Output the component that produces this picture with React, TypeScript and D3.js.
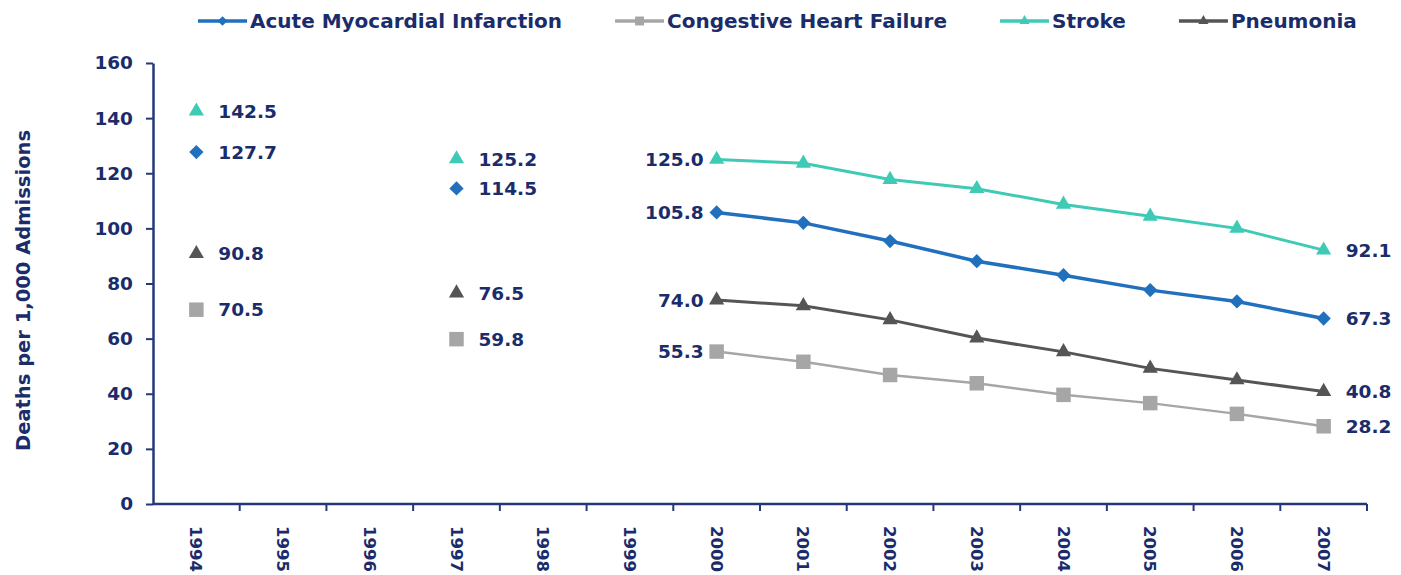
import { useRef, useEffect } from 'react';
import * as d3 from 'd3';

const years = ['1994', '1995', '1996', '1997', '1998', '1999', '2000', '2001', '2002', '2003', '2004', '2005', '2006', '2007'];

const amiValues = [127.7, null, null, 114.5, null, null, 105.8, 102.0, 95.4, 88.1, 83.0, 77.6, 73.5, 67.3];
const chfValues = [70.5, null, null, 59.8, null, null, 55.3, 51.6, 46.8, 43.8, 39.6, 36.6, 32.7, 28.2];
const strokeValues = [142.5, null, null, 125.2, null, null, 125.0, 123.6, 117.7, 114.4, 108.7, 104.4, 100.0, 92.1];
const pneumoniaValues = [90.8, null, null, 76.5, null, null, 74.0, 71.9, 66.8, 60.2, 55.2, 49.2, 45.0, 40.8];

const seriesNames = ['Acute Myocardial Infarction', 'Congestive Heart Failure', 'Stroke', 'Pneumonia'];
const yTicks = [0, 20, 40, 60, 80, 100, 120, 140, 160];
// which points carry a value label
const labelIndex = [0, 3, 6, 13];

const yTitle = 'Deaths per 1,000 Admissions';

const NAVY = '#1b2c6b';
const AXIS = '#23387a';
const FONT = '"DejaVu Sans", Verdana, sans-serif';

function App() {
  const svgRef = useRef<SVGSVGElement | null>(null);
  const width = 1401;
  const height = 575;

  useEffect(() => {
    const svg = d3.select(svgRef.current);
    svg.selectAll('*').remove();

    const series = [
      { name: seriesNames[0], values: amiValues, color: '#2070be', symbol: d3.symbolDiamond2, size: 130, legendSize: 60, lw: 3.5 },
      { name: seriesNames[1], values: chfValues, color: '#a6a6a6', symbol: d3.symbolSquare, size: 210, legendSize: 80, lw: 2.5 },
      { name: seriesNames[2], values: strokeValues, color: '#3fcab5', symbol: d3.symbolTriangle, size: 100, legendSize: 45, lw: 3 },
      { name: seriesNames[3], values: pneumoniaValues, color: '#555555', symbol: d3.symbolTriangle, size: 100, legendSize: 45, lw: 3 },
    ];

    const x = d3.scaleBand<string>().domain(years).range([153, 1367]).padding(0);
    const y = d3.scaleLinear().domain([0, 160]).range([504, 63]);
    const cx = (i: number) => (x(years[i]) as number) + x.bandwidth() / 2;

    // y axis
    const yAxis = svg
      .append('g')
      .attr('transform', `translate(${x.range()[0]},0)`)
      .call(d3.axisLeft(y).tickValues(yTicks).tickSize(7).tickPadding(13).tickSizeOuter(0));
    yAxis.select('.domain').attr('stroke', AXIS).attr('stroke-width', 2.5);
    yAxis.selectAll('.tick line').attr('stroke', AXIS).attr('stroke-width', 2);
    yAxis
      .selectAll('.tick text')
      .attr('fill', NAVY)
      .style('font-family', FONT)
      .style('font-weight', 'bold')
      .style('font-size', '18.5px');

    // x axis: line plus ticks at band edges
    const xAxis = svg.append('g');
    xAxis
      .append('line')
      .attr('x1', x.range()[0])
      .attr('x2', x.range()[1])
      .attr('y1', y(0))
      .attr('y2', y(0))
      .attr('stroke', AXIS)
      .attr('stroke-width', 2.5);
    const edges = years.map((d) => x(d) as number).concat([x.range()[1]]);
    xAxis
      .selectAll('line.tick')
      .data(edges.slice(1))
      .join('line')
      .attr('class', 'tick')
      .attr('x1', (d) => d)
      .attr('x2', (d) => d)
      .attr('y1', y(0))
      .attr('y2', y(0) + 7)
      .attr('stroke', AXIS)
      .attr('stroke-width', 2);
    xAxis
      .selectAll('text')
      .data(years)
      .join('text')
      .attr('transform', (d, i) => `translate(${cx(i)},${y(0) + 22}) rotate(90)`)
      .attr('dy', '0.36em')
      .attr('fill', NAVY)
      .style('font-family', FONT)
      .style('font-weight', 'bold')
      .style('font-size', '16.5px')
      .text((d) => d);

    // y axis title
    svg
      .append('text')
      .attr('transform', `translate(30,${(y(0) + y(160)) / 2 + 7}) rotate(-90)`)
      .attr('text-anchor', 'middle')
      .attr('fill', NAVY)
      .style('font-family', FONT)
      .style('font-weight', 'bold')
      .style('font-size', '19.5px')
      .text(yTitle);

    // lines
    const line = d3
      .line<number | null>()
      .defined((d) => d != null)
      .x((_, i) => cx(i))
      .y((d) => y(d as number));

    series.forEach((s) => {
      // only connect runs of consecutive values
      svg
        .append('path')
        .attr('d', line(s.values.map((v, i) => (v != null && (s.values[i - 1] != null || s.values[i + 1] != null) ? v : null))))
        .attr('fill', 'none')
        .attr('stroke', s.color)
        .attr('stroke-width', s.lw);
    });

    series.forEach((s) => {
      const pts = s.values.map((v, i) => ({ v, i })).filter((d) => d.v != null);
      svg
        .append('g')
        .selectAll('path')
        .data(pts)
        .join('path')
        .attr('transform', (d) => `translate(${cx(d.i)},${y(d.v as number)})`)
        .attr('d', d3.symbol().type(s.symbol).size(s.size)())
        .attr('fill', s.color);

      svg
        .append('g')
        .selectAll('text')
        .data(pts.filter((d) => labelIndex.includes(d.i)))
        .join('text')
        .attr('x', (d) => (d.i === 6 ? cx(d.i) - 13 : cx(d.i) + 22))
        .attr('y', (d) => y(d.v as number))
        .attr('dy', '0.36em')
        .attr('text-anchor', (d) => (d.i === 6 ? 'end' : 'start'))
        .attr('fill', NAVY)
        .style('font-family', FONT)
        .style('font-weight', 'bold')
        .style('font-size', '18.5px')
        .text((d) => (d.v as number).toFixed(1));
    });

    // legend
    const legend = svg.append('g').attr('transform', 'translate(198,21)');
    let lx = 0;
    series.forEach((s) => {
      const g = legend.append('g').attr('transform', `translate(${lx},0)`);
      g.append('line').attr('x1', 0).attr('x2', 49).attr('stroke', s.color).attr('stroke-width', 3.5);
      g.append('path')
        .attr('transform', 'translate(24.5,0)')
        .attr('d', d3.symbol().type(s.symbol).size(s.legendSize)())
        .attr('fill', s.color);
      const t = g
        .append('text')
        .attr('x', 52)
        .attr('dy', '0.36em')
        .attr('fill', NAVY)
        .style('font-family', FONT)
        .style('font-weight', 'bold')
        .style('font-size', '20px')
        .text(s.name);
      const w = (t.node() as SVGTextElement).getComputedTextLength();
      lx += 52 + w + 53;
    });
  }, []);

  return (
    <svg
      ref={svgRef}
      width={width}
      height={height}
      viewBox={`0 0 ${width} ${height}`}
      style={{ position: 'absolute', left: 0, top: 0, background: '#fff' }}
    ></svg>
  );
}

export default App;
